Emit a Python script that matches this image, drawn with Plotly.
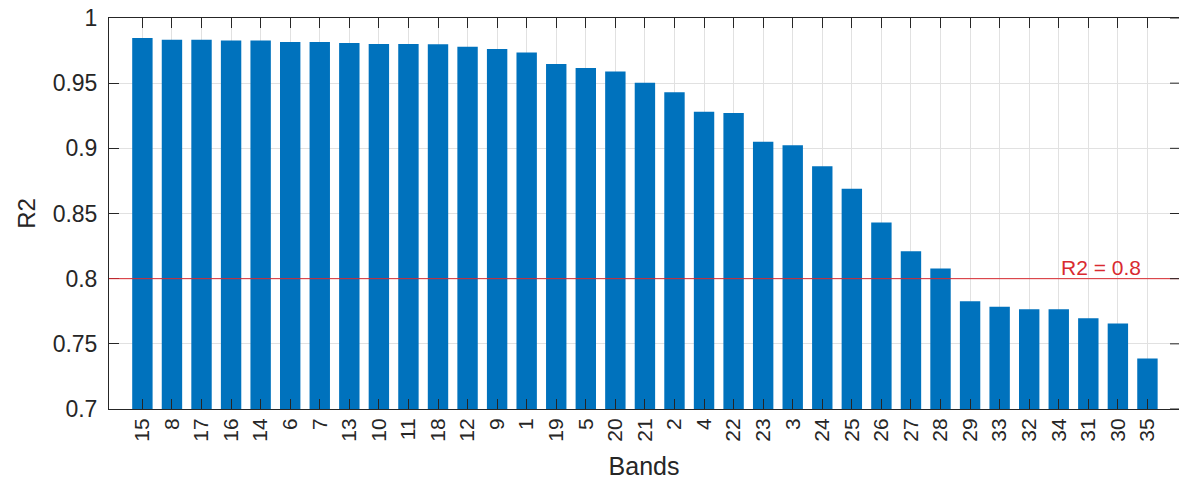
import plotly.graph_objects as go

# Band numbers, sorted by decreasing R2
bands = ["15", "8", "17", "16", "14", "6", "7", "13", "10", "11", "18", "12",
         "9", "1", "19", "5", "20", "21", "2", "4", "22", "23", "3", "24",
         "25", "26", "27", "28", "29", "33", "32", "34", "31", "30", "35"]

r2_values = [0.9847, 0.9834, 0.9834, 0.9828, 0.9828, 0.9816, 0.9816, 0.9808,
             0.9800, 0.9800, 0.9798, 0.9780, 0.9762, 0.9736, 0.9647, 0.9617,
             0.9590, 0.9504, 0.9430, 0.9280, 0.9271, 0.9050, 0.9023, 0.8862,
             0.8690, 0.8430, 0.8210, 0.8078, 0.7827, 0.7784, 0.7766, 0.7766,
             0.7696, 0.7656, 0.7387]

threshold = 0.8
y_ticks = [0.7, 0.75, 0.8, 0.85, 0.9, 0.95, 1.0]
y_tick_text = ["0.7", "0.75", "0.8", "0.85", "0.9", "0.95", "1"]

W, H = 1179, 489
ML, MR, MT, MB = 109, 0, 18, 80
plot_w = W - ML - MR

AX = "#262626"
GRID = "#e1e1e1"
BLUE = "#0072BD"
RED = "#d92a30"
FONT = "Liberation Sans, Arial, sans-serif"

fig = go.Figure()
fig.add_trace(go.Bar(
    x=bands, y=r2_values, width=0.69,
    marker=dict(color=BLUE, line=dict(width=0)),
    showlegend=False,
))

# threshold line
fig.add_shape(type="line", xref="paper", yref="y", x0=0, x1=1,
              y0=threshold, y1=threshold, line=dict(color=RED, width=1))
fig.add_annotation(xref="paper", yref="y", x=(1143 - ML) / plot_w, y=threshold,
                   xanchor="right", yanchor="bottom", showarrow=False,
                   text=f"R2 = {threshold:g}", yshift=-2,
                   font=dict(family=FONT, size=21, color=RED))

# tick marks on the right edge of the box
tick_frac = 9 / plot_w
for v in y_ticks:
    fig.add_shape(type="line", xref="paper", yref="y", x0=1 - tick_frac, x1=1,
                  y0=v, y1=v, line=dict(color=AX, width=1))

fig.update_layout(
    width=W, height=H,
    margin=dict(l=ML, r=MR, t=MT, b=MB, autoexpand=False),
    paper_bgcolor="white", plot_bgcolor="white",
    font=dict(family=FONT, size=21, color=AX),
    bargap=0.3,
)
fig.update_xaxes(
    type="category",
    range=[-1.13, -1.13 + plot_w / 29.56],
    tickangle=-90,
    ticks="inside", ticklen=10, tickcolor=AX, tickwidth=1,
    showline=True, linecolor=AX, linewidth=1, mirror="ticks",
    showgrid=True, gridcolor=GRID, gridwidth=1,
    tickfont=dict(family=FONT, size=21, color=AX),
    title=dict(text="Bands", font=dict(family=FONT, size=25, color=AX), standoff=16),
    automargin=False,
)
fig.update_yaxes(
    range=[0.7, 1.0],
    tickvals=y_ticks, ticktext=y_tick_text,
    ticks="inside", ticklen=10, tickcolor=AX, tickwidth=1,
    showline=True, linecolor=AX, linewidth=1, mirror=False,
    showgrid=True, gridcolor=GRID, gridwidth=1, zeroline=False,
    tickfont=dict(family=FONT, size=23, color=AX),
    ticklabelstandoff=6,
    title=dict(text="R2", font=dict(family=FONT, size=24, color=AX), standoff=10),
    automargin=False,
)

fig.write_html("out.html")
